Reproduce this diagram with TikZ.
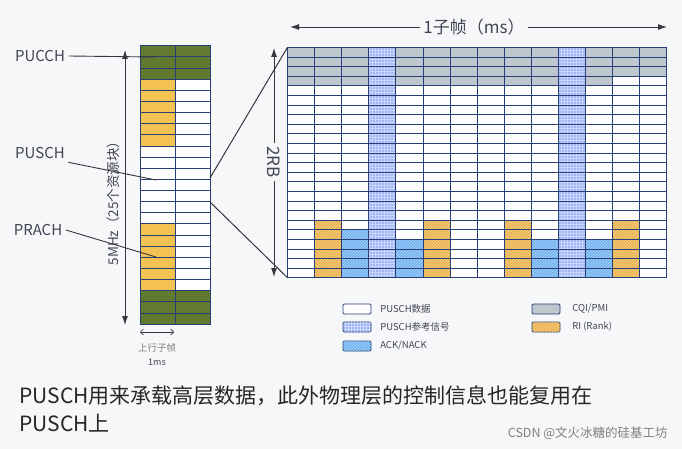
\documentclass[tikz,border=0pt]{standalone}
\usepackage{fontspec}
\setmainfont{Noto Sans CJK SC}
\usetikzlibrary{arrows.meta,patterns}

\definecolor{bg}{RGB}{246,247,249}
\definecolor{gridnavy}{RGB}{40,62,118}
\definecolor{pucchgreen}{RGB}{98,122,48}
\definecolor{prachgold}{RGB}{243,194,82}
\definecolor{cqigray}{RGB}{190,198,206}
\definecolor{rsblue}{RGB}{158,182,246}
\definecolor{ackblue}{RGB}{112,178,240}
\definecolor{riorange}{RGB}{236,178,72}
\definecolor{txtgray}{RGB}{66,68,84}
\definecolor{linegray}{RGB}{55,55,62}

\tikzset{
  lbl/.style={text=txtgray,font=\fontsize{15}{15}\selectfont},
  pointer/.style={draw=linegray,line width=0.9pt},
  zoomline/.style={draw=linegray,line width=1pt},
  dimarrow/.style={draw=linegray,line width=0.9pt,<->},
  legbox/.style={draw=gridnavy,line width=0.8pt,rounded corners=1.2pt},
  legtxt/.style={anchor=west,inner sep=0pt,text=txtgray,font=\fontsize{9.5}{9.5}\selectfont}
}

\begin{document}
\begin{tikzpicture}[x=1pt,y=-1pt,>={Latex[length=9pt,width=6pt]},line width=0.6pt]
  \useasboundingbox[fill=bg] (0,0) rectangle (682,449);

  % 上行子帧：25个资源块
  \fill[white] (140,45.5) rectangle (210,324);
  \foreach \r in {0,1,2,22,23,24}
    \fill[pucchgreen] (140,{45.5+11.14*\r}) rectangle (210,{45.5+11.14*(\r+1)});
  \foreach \r in {3,...,8,16,17,...,21}
    \fill[prachgold] (140,{45.5+11.14*\r}) rectangle (175,{45.5+11.14*(\r+1)});
  \foreach \r in {1,...,24}
    \draw[gridnavy,line width=0.5pt] (140,{45.5+11.14*\r}) -- (210,{45.5+11.14*\r});
  \draw[gridnavy] (140,45.5) rectangle (210,324);
  \draw[gridnavy] (175,45.5) -- (175,324);

  % 信道标注
  \node[lbl] (pucch) at (40,56) {PUCCH};
  \node[lbl] (pusch) at (40,153) {PUSCH};
  \node[lbl] (prach) at (38,230) {PRACH};
  \coordinate (pucchend) at (155,57);
  \coordinate (puschend) at (156,180);
  \coordinate (prachend) at (156,257);
  \draw[pointer] (pucch.east) -- (pucchend);
  \draw[pointer] (pusch.south east) -- (puschend);
  \draw[pointer] (prach.east) -- (prachend);

  % 带宽
  \coordinate (bwtop) at (125,50);
  \coordinate (bwbot) at (125,325);
  \draw[dimarrow] (bwtop) -- (bwbot);
  \node[rotate=90,text=txtgray,font=\fontsize{13.5}{13.5}\selectfont] (bw) at (113,200) {5MHz（25个资源块）};

  % 1ms
  \coordinate (msl) at (140,332);
  \coordinate (msr) at (174,332);
  \draw[linegray,line width=0.7pt,{Straight Barb[length=3pt]}-{Straight Barb[length=3pt]}] (msl) -- (msr);
  \node[text=gray,font=\fontsize{9.5}{9.5}\selectfont] (ulsf) at (157,348) {上行子帧};
  \node[text=txtgray,font=\fontsize{9}{9}\selectfont] (onems) at (157,362) {1ms};

  % 2RB 放大
  \fill[white] (287.5,47.3) rectangle (666.9,277.7);
  \foreach \c in {0,1,2,4,5,6,7,8,9,11}
    \fill[cqigray] ({287.5+27.1*\c},47.3) rectangle +(27.1,38.4);
  \foreach \c in {12,13}
    \fill[cqigray] ({287.5+27.1*\c},47.3) rectangle +(27.1,28.8);
  \foreach \c in {3,10}{
    \fill[rsblue] ({287.5+27.1*\c},47.3) rectangle +(27.1,230.4);
    \fill[pattern=grid,pattern color=white!45!rsblue] ({287.5+27.1*\c},47.3) rectangle +(27.1,230.4);
  }
  \foreach \c in {1,5,8,12}{
    \fill[riorange] ({287.5+27.1*\c},220.1) rectangle +(27.1,57.6);
    \fill[pattern=north east lines,pattern color=white!45!riorange] ({287.5+27.1*\c},220.1) rectangle +(27.1,57.6);
  }
  \fill[ackblue] (341.7,229.7) rectangle +(27.1,48);
  \fill[pattern=north east lines,pattern color=white!45!ackblue] (341.7,229.7) rectangle +(27.1,48);
  \foreach \c in {4,9,11}{
    \fill[ackblue] ({287.5+27.1*\c},239.3) rectangle +(27.1,38.4);
    \fill[pattern=north east lines,pattern color=white!45!ackblue] ({287.5+27.1*\c},239.3) rectangle +(27.1,38.4);
  }
  \foreach \r in {0,...,24}
    \draw[gridnavy,line width=0.5pt] (287.5,{47.3+9.6*\r}) -- (666.9,{47.3+9.6*\r});
  \foreach \c in {0,...,14}
    \draw[gridnavy,line width=1pt] ({287.5+27.1*\c},47.3) -- ({287.5+27.1*\c},277.7);

  % 放大线
  \coordinate (zta) at (210,178);
  \coordinate (zba) at (210,202);
  \coordinate (gtl) at (287.5,47.3);
  \coordinate (gbl) at (287.5,277.7);
  \draw[zoomline] (zta) -- (gtl);
  \draw[zoomline] (zba) -- (gbl);

  % 子帧长度
  \node[fill=bg,text=txtgray,font=\fontsize{17}{17}\selectfont] (sf) at (474,27) {1子帧（ms）};
  \coordinate (sfl) at (290,27);
  \coordinate (sfr) at (667,27);
  \draw[linegray,line width=0.9pt,->] (sf) -- (sfl);
  \draw[linegray,line width=0.9pt,->] (sf) -- (sfr);

  % 2RB
  \node[rotate=-90,fill=bg,text=txtgray,font=\fontsize{17}{17}\selectfont] (rb) at (274,162) {2RB};
  \coordinate (rbtop) at (274,48);
  \coordinate (rbbot) at (274,277);
  \draw[linegray,line width=0.9pt,->] (rb) -- (rbtop);
  \draw[linegray,line width=0.9pt,->] (rb) -- (rbbot);

  % 图例
  \draw[legbox,fill=white] (343,304) rectangle (371,314);
  \draw[legbox,fill=rsblue] (343,322) rectangle (371,332);
  \fill[pattern=grid,pattern color=white!45!rsblue] (343.5,322.5) rectangle (370.5,331.5);
  \draw[legbox,fill=ackblue] (343,341) rectangle (371,351);
  \fill[pattern=north east lines,pattern color=white!45!ackblue] (343.5,341.5) rectangle (370.5,350.5);
  \draw[legbox,fill=cqigray] (532,304) rectangle (560,314);
  \draw[legbox,fill=riorange] (532,322) rectangle (560,332);
  \fill[pattern=north east lines,pattern color=white!45!riorange] (532.5,322.5) rectangle (559.5,331.5);
  \node[legtxt] (lgdata) at (380,309) {PUSCH数据};
  \node[legtxt] (lgrs) at (380,327) {PUSCH参考信号};
  \node[legtxt] (lgack) at (380,346) {ACK/NACK};
  \node[legtxt] (lgcqi) at (572,309) {CQI/PMI};
  \node[legtxt] (lgri) at (572,327) {RI (Rank)};

  % 说明
  \node[anchor=west,inner sep=0pt,text=black!85,font=\fontsize{21}{21}\selectfont] (note1) at (19,396) {PUSCH用来承载高层数据，此外物理层的控制信息也能复用在};
  \node[anchor=west,inner sep=0pt,text=black!85,font=\fontsize{21}{21}\selectfont] (note2) at (19,423) {PUSCH上};
  \node[anchor=east,inner sep=0pt,text=gray,font=\fontsize{12.5}{12.5}\selectfont] (wm) at (668,433) {CSDN @文火冰糖的硅基工坊};
\end{tikzpicture}
\end{document}
